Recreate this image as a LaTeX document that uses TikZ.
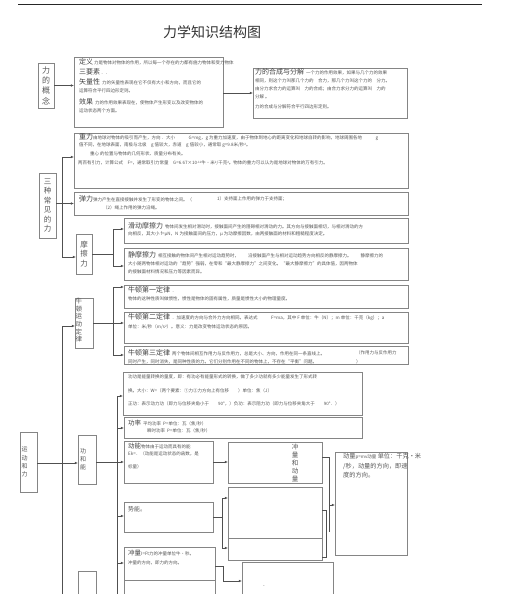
\documentclass[tikz,border=0pt]{standalone}
\usepackage{fontspec}
\newfontfamily\cjk{Noto Sans CJK SC}
\usetikzlibrary{arrows.meta}
\definecolor{bc}{HTML}{858585}
\definecolor{tc}{HTML}{555555}
\definecolor{lc}{HTML}{505050}
\newcommand\hh[1]{{\color{black!75}\fontsize{7}{7}\selectfont #1}}
\newcommand\sps[1]{\raisebox{1.3pt}{\fontsize{3}{3}\selectfont #1}}
\newcommand\bx[5]{\node[box, minimum width={(#4)-(#2)}, minimum height={(#5)-(#3)}] (#1) at (#2,#3) {};}
\tikzset{
  box/.style={draw=bc, line width=0.75pt, anchor=north west, inner sep=0pt, outer sep=0pt},
  txt/.style={anchor=west, inner sep=0pt, align=left, text=tc, font=\cjk\fontsize{4.5}{6}\selectfont},
  vlab/.style={inner sep=0pt, align=center, text=tc, font=\cjk\fontsize{7.5}{9.5}\selectfont},
  arr/.style={draw=lc, line width=0.55pt, -{Latex[length=3.2pt,width=2.6pt]}},
  ln/.style={draw=lc, line width=0.55pt}
}
\begin{document}
\begin{tikzpicture}[x=1pt,y=-1pt]
\useasboundingbox (0,0) rectangle (507,594);
\clip (0,0) rectangle (507,594);
\draw[line width=0.8pt, black!85] (18,4) -- (482,4);
\node[font=\cjk\fontsize{14}{14}\selectfont, text=black!80] (title) at (212,32) {力学知识结构图};

% boxes
\bx{gn}{38}{63}{54}{108}
\bx{def}{74}{57}{223}{127}
\bx{hc}{253}{68}{407}{118}
\bx{zl}{74}{133}{408}{188}
\bx{tl}{74}{192}{408}{215}
\bx{sz}{39}{173}{56}{238}
\bx{mc}{76}{234}{92}{274}
\bx{hd}{124}{218}{408}{243}
\bx{jm}{124}{248}{408}{280}
\bx{nd}{75}{298}{93}{348}
\bx{na}{124}{285}{408}{308}
\bx{nb}{124}{312}{408}{343}
\bx{nc}{124}{346}{408}{364}
\bx{gong}{123}{372}{362}{415}
\bx{gl}{124}{417}{362}{438}
\bx{dn}{124}{441}{213}{483}
\bx{cd}{228}{442}{322}{483}
\bx{cdb}{228}{487}{322}{538}
\bx{cdc}{228}{538}{322}{560}
\bx{dl}{335}{452}{407}{555}
\bx{sn}{124}{502}{213}{532}
\bx{cl}{124}{547}{215}{580}
\bx{clb}{124}{580}{215}{600}
\bx{bxc}{242}{562}{333}{600}
\bx{yd}{20}{432}{37}{492}
\bx{gh}{78}{435}{96}{484}
\bx{ghb}{78}{571}{96}{600}

% vertical labels
\node[vlab, font=\cjk\fontsize{8}{10.3}\selectfont] (gnT) at (gn.center) {力\\的\\概\\念};
\node[vlab] (szT) at (sz.center) {三\\种\\常\\见\\的\\力};
\node[vlab] (mcT) at (mc.center) {摩\\擦\\力};
\node[vlab, font=\cjk\fontsize{6.5}{7.6}\selectfont, anchor=north west] (ndT) at (75.5,298) {牛\\顿\\运\\动\\定\\律};
\node[vlab, font=\cjk\fontsize{6}{8.2}\selectfont, anchor=north west] (ydT) at (21.5,447) {运\\动\\和\\力};
\node[vlab, font=\cjk\fontsize{6}{8.4}\selectfont, anchor=north west] (ghT) at (80,448) {功\\和\\能};
\node[vlab, font=\cjk\fontsize{6.5}{8.2}\selectfont] (cdT) at (295,463) {冲\\量\\和\\动\\量};

% definition box
\node[txt] (d1) at (79,62) {\hh{定义} 力是物体对物体的作用，所以每一个存在的力都有施力物体和受力物体};
\node[txt] (d2) at (79,72) {\hh{三要素} ．．};
\node[txt] (d3) at (79,82) {\hh{矢量性} \ 力的矢量性表现在它不仅有大小和方向，而且它的};
\node[txt] (d4) at (79,91) {运算符合平行四边形定则。};
\node[txt] (d5) at (79,102) {\hh{效果} \ 力的作用效果表现在，使物体产生形变以及改变物体的};
\node[txt] (d6) at (79,111) {运动状态两个方面。};

% composition box
\node[txt] (h1) at (255,72) {\hh{力的合成与分解} \ 一个力的作用效果，如果与几个力的效果};
\node[txt] (h2) at (255,81) {相同，则这个力叫那几个力的\quad 合力，那几个力叫这个力的\quad 分力。};
\node[txt] (h3) at (255,89) {由分力求合力的运算叫\quad 力的合成；由合力求分力的运算叫\quad 力的};
\node[txt] (h4) at (255,97) {分解\ 。};
\node[txt] (h5) at (255,107) {力的合成与分解符合平行四边形定则。};

% gravity
\node[txt] (z1) at (79,137) {\hh{重力}由地球对物体的吸引而产生，方向\ ．大小\qquad\quad G=mg，g 为重力加速度，由于物体到地心的距离变化和地球自转的影响，地球周围各地\qquad\quad g};
\node[txt] (z2) at (79,145) {值不同，在地球表面，南极与北极\quad g 值较大，赤道\quad g 值较小，通常取 g=9.8米/秒\sps{2}。};
\node[txt] (z3) at (90,154) {重心 的位置与物体的几何形状、质量分布有关。};
\node[txt] (z4) at (78,163) {两百有引力，计算公式\quad F=，通常取引力常量\quad G=6.67×10\sps{-11}牛·米\sps{2}/千克\sps{2}。物体的重力可以认为是地球对物体的万有引力。};

% elastic
\node[txt] (t1) at (79,199) {\hh{弹力}弹力产生在直接接触并发生了形变的物体之间。（};
\node[txt] (t2) at (217,199) {1）支持面上作用的弹力于支持面；};
\node[txt] (t3) at (103,208) {（2）绳上作用的弹力沿绳。};

% friction
\node[txt] (f1) at (128,226) {\hh{滑动摩擦力} \ 物体间发生相对滑动时，接触面间产生的阻碍相对滑动的力。其方向与接触面相切，与相对滑动的方};
\node[txt] (f2) at (128,234) {向相反，其大小\ f=μN，N 为接触面间的压力，μ 为动摩擦因数，由两接触面的材料和粗糙程度决定。};
\node[txt] (s1) at (128,255) {\hh{静摩擦力} \ 相互接触的物体间产生相对运动趋势时，\qquad 沿接触面产生与相对运动趋势方向相反的静摩擦力。\qquad 静摩擦力的};
\node[txt] (s2) at (128,264) {大小随两物体相对运动的“趋势”强弱，在零和“最大静摩擦力”之间变化。“最大静摩擦力”的具体值，因两物体};
\node[txt] (s3) at (128,272) {的接触面材料情况和压力等因素而异。};

% Newton
\node[txt] (a1) at (128,290) {\hh{牛顿第一定律} \ ．};
\node[txt] (a2) at (128,299) {物体的这种性质叫做惯性，惯性是物体的固有属性，质量是惯性大小的物理量度。};
\node[txt] (b1) at (128,317) {\hh{牛顿第二定律} \ ．加速度的方向与合外力方向相同。表达式\qquad\quad F=ma，其中 F 单位：牛（N）；m 单位：千克（kg）；a};
\node[txt] (b2) at (128,327) {单位：米/秒（m/s\sps{2}）。意义：力是改变物体运动状态的原因。};
\node[txt] (c1) at (128,353) {\hh{牛顿第三定律} \ 两个物体间相互作用力与反作用力，总是大小、方向，作用在同一条直线上。};
\node[txt] (c2) at (128,362) {同时产生，同时消失，是同种性质的力。它们分别作用在不同的物体上，不存在“平衡”问题。};
\node[txt] (c3) at (356,353) {（作用力与反作用力};
\node[txt] (c4) at (356,362) {）};

% work
\node[txt] (w1) at (128,377) {功功是能量转换的量度，即：有功必有能量形式的转换，做了多少功就有多少能量发生了形式转};
\node[txt] (w2) at (128,391) {换。大小：W=（两个要素：①力②力方向上有位移\qquad ）单位：焦（J）};
\node[txt] (w3) at (128,404) {正功：表示动力功（即力与位移夹角小于\qquad 90°，）负功：表示阻力功（即力与位移夹角大于\qquad 90°．）};
\node[txt] (p1) at (128,423) {\hh{\fontsize{6.5}{6.5}\selectfont 功率} \ 平均功率\ \ P=单位：瓦（焦/秒）};
\node[txt] (p2) at (147,431) {瞬时功率\ \ P=单位：瓦（焦/秒）};
\node[txt] (k1) at (128,446) {\hh{\fontsize{6.5}{6.5}\selectfont 动能}物体由于运动而具有的能};
\node[txt] (k2) at (128,454) {Ek=．（动能是运动状态的函数，是};
\node[txt] (k3) at (128,467) {标量）};
\node[txt] (q1) at (128,509) {{\fontsize{6}{6}\selectfont 势能。}};
\node[txt] (i1) at (128,553) {\hh{\fontsize{6.5}{6.5}\selectfont 冲量}I=Ft力的冲量单位牛·秒。};
\node[txt] (i2) at (128,563) {冲量的方向，即力的方向。};
\node[txt, font=\cjk\fontsize{6.2}{9.7}\selectfont, anchor=north west] (m1) at (343,453) {动量{\fontsize{4.5}{4.5}\selectfont p=mv动量} 单位：千克·米\\/秒，动量的方向，即速\\度的方向。};
\node[txt] (dot) at (263,587) {-};

% connectors
\draw[arr] (gn.east) -- (gn.east -| def.west);
\draw[arr] (def.east |- hc.west) -- (hc.west);

\coordinate (sj1) at (62,157);
\coordinate (sj2) at (62,257);
\draw[ln] (sj1) -- (sj2);
\draw[arr] (sj1) -- (sj1 -| zl.west);
\draw[arr] (sz.east |- tl.west) -- (tl.west);
\draw[arr] (sj2) -- (sj2 -| mc.west);

\coordinate (mj1) at (113,229);
\coordinate (mj2) at (113,266);
\draw[ln] (mc.east) -- (mc.east -| mj1);
\draw[ln] (mj1) -- (mj2);
\draw[arr] (mj1) -- (mj1 -| hd.west);
\draw[arr] (mj2) -- (mj2 -| jm.west);

\coordinate (nj1) at (113,287);
\coordinate (nj2) at (113,323);
\coordinate (nj3) at (113,355);
\draw[ln] (nd.east) -- (nd.east -| nj2);
\draw[ln] (nj1) -- (nj3);
\draw[arr] (nj1) -- (nj1 -| na.west);
\draw[arr] (nj2) -- (nj2 -| nb.west);
\draw[arr] (nj3) -- (nj3 -| nc.west);

\coordinate (vj1) at (62,326);
\coordinate (vj2) at (62,600);
\draw[ln] (vj1) -- (vj2);
\draw[arr] (vj1) -- (vj1 -| nd.west);

\draw[arr] (yd.east |- 0,463) -- (gh.west |- 0,463);
\draw[arr] (gh.east |- dn.west) -- (dn.west);

\coordinate (gj1) at (117,396);
\coordinate (gj2) at (117,428);
\coordinate (gj3) at (117,516);
\coordinate (gj4) at (117,563);
\coordinate (gj5) at (117,600);
\draw[ln] (gj1) -- (gj5);
\draw[arr] (gj1) -- (gj1 -| gong.west);
\draw[arr] (gj2) -- (gj2 -| gl.west);
\draw[arr] (gj3) -- (gj3 -| sn.west);
\draw[arr] (gj4) -- (gj4 -| cl.west);

\draw[arr] (dn.east) -- (dn.east -| cd.west);

\coordinate (pj1) at (222,498);
\coordinate (pj2) at (222,548);
\draw[ln] (sn.east) -- (sn.east -| pj1);
\draw[ln] (pj1) -- (pj2);
\draw[arr] (pj1) -- (pj1 -| cdb.west);
\draw[arr] (pj2) -- (pj2 -| cdc.west);

\coordinate (ij1) at (223,566);
\coordinate (ij2) at (223,581);
\draw[ln] (cl.east |- ij1) -- (ij1) -- (ij2);
\draw[arr] (ij2) -- (ij2 -| bxc.west);

\coordinate (rj1) at (329,457);
\coordinate (rj2) at (329,505);
\coordinate (rj3) at (329,532);
\draw[ln] (cd.east |- rj1) -- (rj1) -- (rj3);
\draw[arr] (rj2) -- (rj2 -| dl.west);
\coordinate (uj1) at (326,510);
\coordinate (uj2) at (326,557);
\draw[ln] (cdb.east |- uj1) -- (uj1) -- (uj2) -- (uj2 -| cdc.east);
\end{tikzpicture}
\end{document}
